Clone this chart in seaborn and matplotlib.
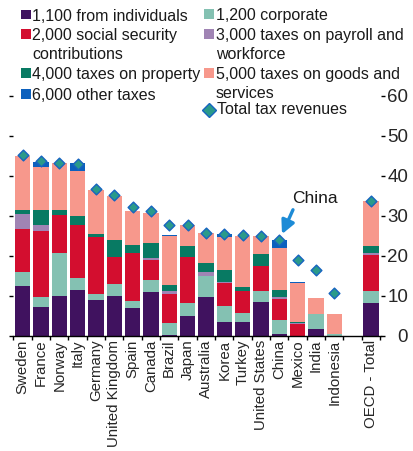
import numpy as np
import matplotlib
matplotlib.use("Agg")
import matplotlib.pyplot as plt
from matplotlib.patches import Rectangle
from matplotlib.lines import Line2D
import seaborn as sns

# ---- data: tax revenue by category, % of GDP ----
countries = ["Sweden", "France", "Norway", "Italy", "Germany", "United Kingdom",
             "Spain", "Canada", "Brazil", "Japan", "Australia", "Korea", "Turkey",
             "United States", "China", "Mexico", "India", "Indonesia", "OECD - Total"]
# slot 18 is left empty to separate the OECD average
positions = list(range(18)) + [19]

income_individuals = [12.4, 7.2, 9.9, 11.4, 8.8, 9.8, 6.8, 10.8, 0.2, 5.0,
                      9.7, 3.5, 3.5, 8.4, 0.4, 0.0, 1.6, 0.0, 8.2]
income_corporate = [3.5, 2.5, 10.7, 2.9, 1.7, 3.1, 1.8, 3.2, 2.9, 3.2,
                    5.1, 3.8, 2.1, 2.8, 3.5, 0.0, 3.9, 0.5, 3.0]
social_security = [10.8, 16.6, 9.6, 13.4, 14.2, 6.7, 12.0, 4.8, 7.3, 11.5,
                   0.0, 5.9, 5.5, 6.1, 5.2, 2.8, 0.0, 0.0, 9.0]
payroll = [3.8, 1.5, 0.0, 0.0, 0.0, 0.0, 0.0, 0.7, 0.7, 0.0,
           1.2, 0.1, 0.0, 0.0, 0.6, 0.3, 0.0, 0.0, 0.4]
property_tax = [1.0, 3.7, 1.2, 2.2, 0.8, 4.2, 2.1, 3.6, 1.5, 2.7,
                2.2, 3.0, 1.1, 3.0, 1.7, 0.3, 0.0, 0.0, 1.9]
goods_services = [13.4, 10.8, 11.7, 11.3, 11.0, 11.2, 8.4, 7.6, 12.4, 5.2,
                  7.4, 8.5, 12.7, 4.6, 10.5, 9.8, 3.8, 4.9, 11.1]
other_taxes = [0.1, 1.2, 0.0, 2.1, 0.0, 0.0, 0.2, 0.0, 0.2, 0.0,
               0.0, 0.6, 0.0, 0.0, 2.0, 0.2, 0.0, 0.0, 0.0]
total_revenue = [45.2, 43.7, 43.1, 43.0, 36.6, 35.3, 32.1, 31.1, 27.8, 27.6,
                 25.8, 25.5, 25.3, 25.0, 24.0, 19.0, 16.4, 10.7, 33.8]

series_labels = ["1,100 from individuals", "1,200 corporate",
                 "2,000 social security\ncontributions",
                 "3,000 taxes on payroll and\nworkforce",
                 "4,000 taxes on property",
                 "5,000 taxes on goods and\nservices",
                 "6,000 other taxes"]
total_label = "Total tax revenues"
y_ticks = [0, 10, 20, 30, 40, 50, 60]

colors = ["#40125f", "#84c1b2", "#d30e2f", "#a084b4", "#087a63", "#f7988c", "#0c60bd"]
diamond_face = "#2a9a8a"
diamond_edge = "#1764c0"

# ---- style ----
sns.set_theme(style="ticks")
plt.rcParams["font.family"] = ["Liberation Sans", "DejaVu Sans"]
plt.rcParams["text.color"] = "#1a1a1a"

W, H = 413, 451
fig = plt.figure(figsize=(W / 100, H / 100), dpi=100)
ax = fig.add_axes([12.5 / W, 1 - 335.5 / H, (381 - 12.5) / W, (335.5 - 96) / H])

# ---- stacked bars: draw cumulative totals from the top layer down ----
layers = np.array([income_individuals, income_corporate, social_security, payroll,
                   property_tax, goods_services, other_taxes])
cum = np.cumsum(layers, axis=0)
for k in reversed(range(len(layers))):
    sns.barplot(x=positions, y=cum[k], native_scale=True, width=0.84,
                color=colors[k], saturation=1, errorbar=None,
                linewidth=0, edgecolor="none", ax=ax)

sns.scatterplot(x=positions, y=total_revenue, marker="D", s=30,
                color=diamond_face, edgecolor=diamond_edge, linewidth=1.0,
                zorder=5, legend=False, ax=ax)

# ---- axes ----
ax.set_xlim(-0.55, 19.55)
ax.set_ylim(0, 60)
ax.set_xlabel("")
ax.set_ylabel("")
ax.set_xticks(positions)
ax.set_xticklabels(countries, rotation=90, fontsize=10.8)
ax.set_xticks([p - 0.5 for p in range(18)] + [17.5, 18.5, 19.5], minor=True)
ax.tick_params(axis="x", which="major", length=0, pad=3, bottom=True)
ax.tick_params(axis="x", which="minor", length=2.6, width=1, direction="out",
               bottom=True, color="black")

ax.set_yticks(y_ticks)
ax.set_yticklabels([str(t) for t in y_ticks])
ax.tick_params(axis="y", which="major", left=True, right=True, labelleft=False,
               labelright=True, length=3.0, width=1, direction="out",
               color="black", labelsize=13.5, pad=16.5)
for tick in ax.yaxis.get_major_ticks():
    tick.label2.set_horizontalalignment("right")

sns.despine(ax=ax, left=True, right=True, top=True)
ax.spines["bottom"].set_color("black")
ax.spines["bottom"].set_linewidth(1.0)
ax.set_facecolor("white")

# ---- China callout ----
ax.annotate("China", xy=(14.15, 25.4), xytext=(15.95, 34.2),
            ha="center", va="center", fontsize=12.5,
            arrowprops=dict(arrowstyle="-|>,head_length=0.8,head_width=0.4",
                            color="#1d8bd6", lw=2.4, shrinkA=0, shrinkB=0,
                            relpos=(0.05, 0.0), mutation_scale=10))

# ---- legend, two columns across the top ----
def fx(px):
    return px / W


def fy(py):
    return 1 - py / H


col_x = [20.7, 204.0]
baselines = [20.7, 20.0, 40.0, 40.0, 79.3, 79.3, 100.0]
columns = [0, 1, 0, 1, 0, 1, 0]
line_step = 18.6
for k, label in enumerate(series_labels):
    x0 = col_x[columns[k]]
    base = baselines[k]
    fig.add_artist(Rectangle((fx(x0), fy(base - 1.3)), 10 / W, 9.5 / H,
                             transform=fig.transFigure, facecolor=colors[k],
                             edgecolor="none"))
    for j, line in enumerate(label.split("\n")):
        fig.text(fx(x0 + 11.6), fy(base + j * line_step), line,
                 fontsize=11.5, va="baseline", ha="left")

fig.add_artist(Line2D([fx(209.5)], [fy(109.5)], marker="D", markersize=7.2,
                      markerfacecolor=diamond_face, markeredgecolor=diamond_edge,
                      markeredgewidth=1.0, linestyle="none",
                      transform=fig.transFigure))
fig.text(fx(217.0), fy(114.0), total_label, fontsize=11.5, va="baseline", ha="left")

fig.savefig("out.png", dpi=100, facecolor="white")
